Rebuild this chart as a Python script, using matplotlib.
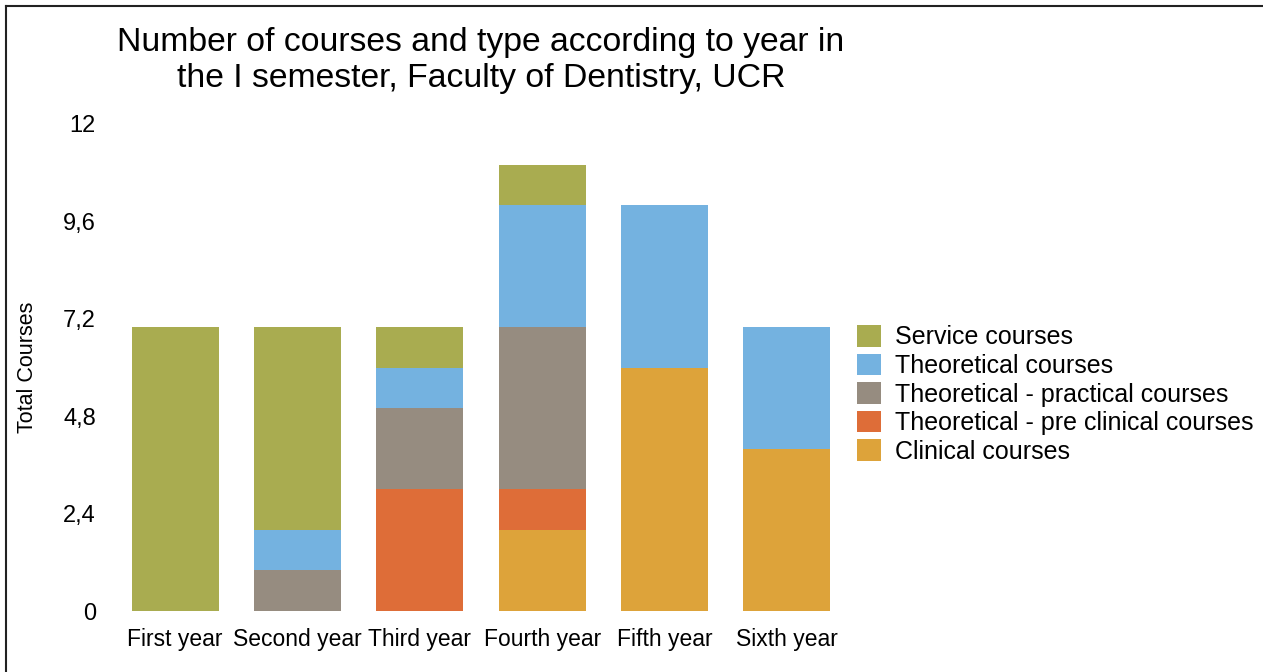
import matplotlib
matplotlib.use("Agg")
import matplotlib.pyplot as plt
from matplotlib.patches import Patch
from matplotlib.lines import Line2D
import numpy as np

plt.rcParams['font.family'] = ['Liberation Sans', 'DejaVu Sans']

years = ["First year", "Second year", "Third year", "Fourth year", "Fifth year", "Sixth year"]
clinical = [0, 0, 0, 2, 6, 4]
pre_clinical = [0, 0, 3, 1, 0, 0]
theo_practical = [0, 1, 2, 4, 0, 0]
theoretical = [0, 1, 1, 3, 4, 3]
service = [7, 5, 1, 1, 0, 0]
yticks = [0, 2.4, 4.8, 7.2, 9.6, 12]
ytick_labels = ["0", "2,4", "4,8", "7,2", "9,6", "12"]
title_lines = ["Number of courses and type according to year in",
               "the I semester, Faculty of Dentistry, UCR"]

series = [
    ("Clinical courses", clinical, "#DDA33A"),
    ("Theoretical - pre clinical courses", pre_clinical, "#DE6D38"),
    ("Theoretical - practical courses", theo_practical, "#968C80"),
    ("Theoretical courses", theoretical, "#74B2E0"),
    ("Service courses", service, "#A9AC50"),
]

W, H = 1263, 672
fig = plt.figure(figsize=(W / 100, H / 100), dpi=100)
ax = fig.add_axes([114 / W, (H - 611) / H, (848 - 114) / W, (611 - 124) / H])

x = np.arange(len(years))
bottom = np.zeros(len(years))
for name, vals, col in series:
    vals = np.array(vals, dtype=float)
    ax.bar(x, vals, width=0.71, bottom=bottom, color=col, label=name, linewidth=0)
    bottom += vals

ax.set_xlim(-0.5, len(years) - 0.5)
ax.set_ylim(0, 12)
ax.set_xticks(x)
ax.set_xticklabels(years, fontsize=16.5)
ax.set_yticks(yticks)
ax.set_yticklabels(ytick_labels, fontsize=17)
ax.tick_params(axis='both', length=0)
ax.tick_params(axis='y', pad=13)
ax.tick_params(axis='x', pad=12)
for s in ax.spines.values():
    s.set_visible(False)

ax.set_ylabel("Total Courses", fontsize=15.5)
ax.yaxis.set_label_coords((38 - 114) / (848 - 114), 0.5)

fig.text(481 / W, 1 - 42 / H, title_lines[0], ha='center', va='center', fontsize=24.3)
fig.text(481 / W, 1 - 78 / H, title_lines[1], ha='center', va='center', fontsize=24.3)

handles = [Patch(facecolor=c, edgecolor='none', label=n) for n, v, c in reversed(series)]
fig.legend(handles=handles, loc='upper left', bbox_to_anchor=(857 / W, 1 - 325 / H),
           frameon=False, fontsize=18, handlelength=0.95, handleheight=0.95,
           handletextpad=0.56, labelspacing=0.17, borderpad=0, borderaxespad=0)

# frame lines (top and left)
fig.add_artist(Line2D([6 / W, 6 / W], [0, 1 - 6 / H], transform=fig.transFigure, color='#222222', lw=1.5))
fig.add_artist(Line2D([6 / W, 1], [1 - 6 / H, 1 - 6 / H], transform=fig.transFigure, color='#222222', lw=1.5))

fig.savefig("out.png", dpi=100, facecolor='white')
